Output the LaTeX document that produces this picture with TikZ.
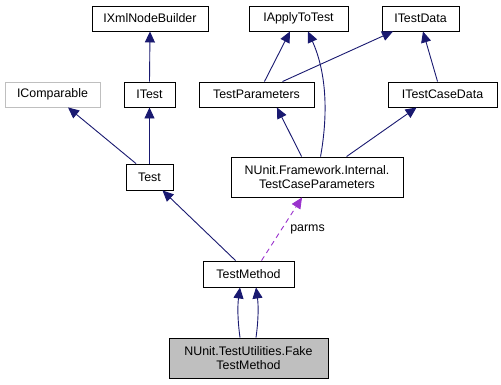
\documentclass[tikz,border=0pt]{standalone}
\usepackage{fontspec}
\setmainfont{Liberation Sans}
\usetikzlibrary{arrows.meta}
\definecolor{edgeblue}{HTML}{191970}
\definecolor{usepurple}{HTML}{9A32CD}
\definecolor{nodoc}{HTML}{BFBFBF}
\definecolor{selfgrey}{HTML}{BFBFBF}
\tikzset{
  cls/.style={draw=black, line width=0.9pt, fill=white, rectangle, inner sep=0pt,
    minimum height=25pt, align=center,
    font=\fontsize{12.4}{14}\selectfont},
  tall/.style={minimum height=40pt},
  inherit/.style={draw=edgeblue, line width=0.9pt,
    -{Triangle[length=11pt,width=10pt,fill=edgeblue]}},
  usage/.style={draw=usepurple, line width=0.9pt, dash pattern=on 5pt off 4pt,
    -{Triangle[length=11pt,width=10pt,fill=usepurple]}},
  edgelabel/.style={inner sep=0pt, text=black, font=\fontsize{12.4}{14}\selectfont},
}
\begin{document}
\begin{tikzpicture}[x=1pt,y=-1pt]
\useasboundingbox (0,0) rectangle (501,384);

% classes
\node[cls, minimum width=116pt] (ixml) at (150,18.5) {IXmlNodeBuilder};
\node[cls, minimum width=99pt] (iapply) at (298.5,18.5) {IApplyToTest};
\node[cls, minimum width=77pt] (itdata) at (420.5,18.5) {ITestData};
\node[cls, draw=nodoc, minimum width=95pt] (icomp) at (52.5,94.5) {IComparable};
\node[cls, minimum width=51pt] (itest) at (149.5,94.5) {ITest};
\node[cls, minimum width=115pt] (tparams) at (256.5,94.5) {TestParameters};
\node[cls, minimum width=109pt] (itcd) at (442.5,94.5) {ITestCaseData};
\node[cls, minimum width=47pt, minimum height=26pt] (test) at (149.5,177) {Test};
\node[cls, tall, minimum width=172pt] (tcp) at (317,177)
  {NUnit.Framework.Internal.\\TestCaseParameters};
\node[cls, minimum width=91pt, minimum height=26pt] (tmethod) at (248.5,274) {TestMethod};
\node[cls, tall, fill=selfgrey, minimum width=159pt] (fake) at (248.5,358)
  {NUnit.TestUtilities.Fake\\TestMethod};

% inheritance edges
\draw[inherit] (itest.north) -- (ixml.south);
\draw[inherit] (test.north) -- (itest.south);
\draw[inherit] ([xshift=-13.5pt]test.north) -- ([xshift=15.5pt]icomp.south);
\draw[inherit] ([xshift=-50pt]tparams.north east) -- ([xshift=-8.5pt]iapply.south);
\draw[inherit] ([xshift=-32pt]tparams.north east) -- ([xshift=-27.5pt]itdata.south);
\draw[inherit] ([xshift=50pt]itcd.north west) -- ([xshift=2.5pt]itdata.south);
\draw[inherit] ([xshift=71pt]tcp.north west) -- ([xshift=-37.5pt]tparams.south east);
\draw[inherit] ([xshift=116pt]tcp.north west) -- ([xshift=29pt]itcd.south west);
\draw[inherit] ([xshift=90pt]tcp.north west)
  .. controls +(8,-45) and +(18,40) .. ([xshift=9.5pt]iapply.south);
\draw[inherit] ([xshift=33pt]tmethod.north west) -- ([xshift=13pt]test.south);
\draw[inherit] ([xshift=-8.5pt]fake.north)
  .. controls +(-2.5,-18) and +(-2.5,18) .. ([xshift=-8.5pt]tmethod.south);
\draw[inherit] ([xshift=7.5pt]fake.north)
  .. controls +(2.5,-18) and +(2.5,18) .. ([xshift=7.5pt]tmethod.south);

% usage relation
\draw[usage] ([xshift=59pt]tmethod.north west) -- ([xshift=-15pt]tcp.south);
\node[edgelabel] (parmslbl) at (307.5,229) {parms};
\end{tikzpicture}
\end{document}
